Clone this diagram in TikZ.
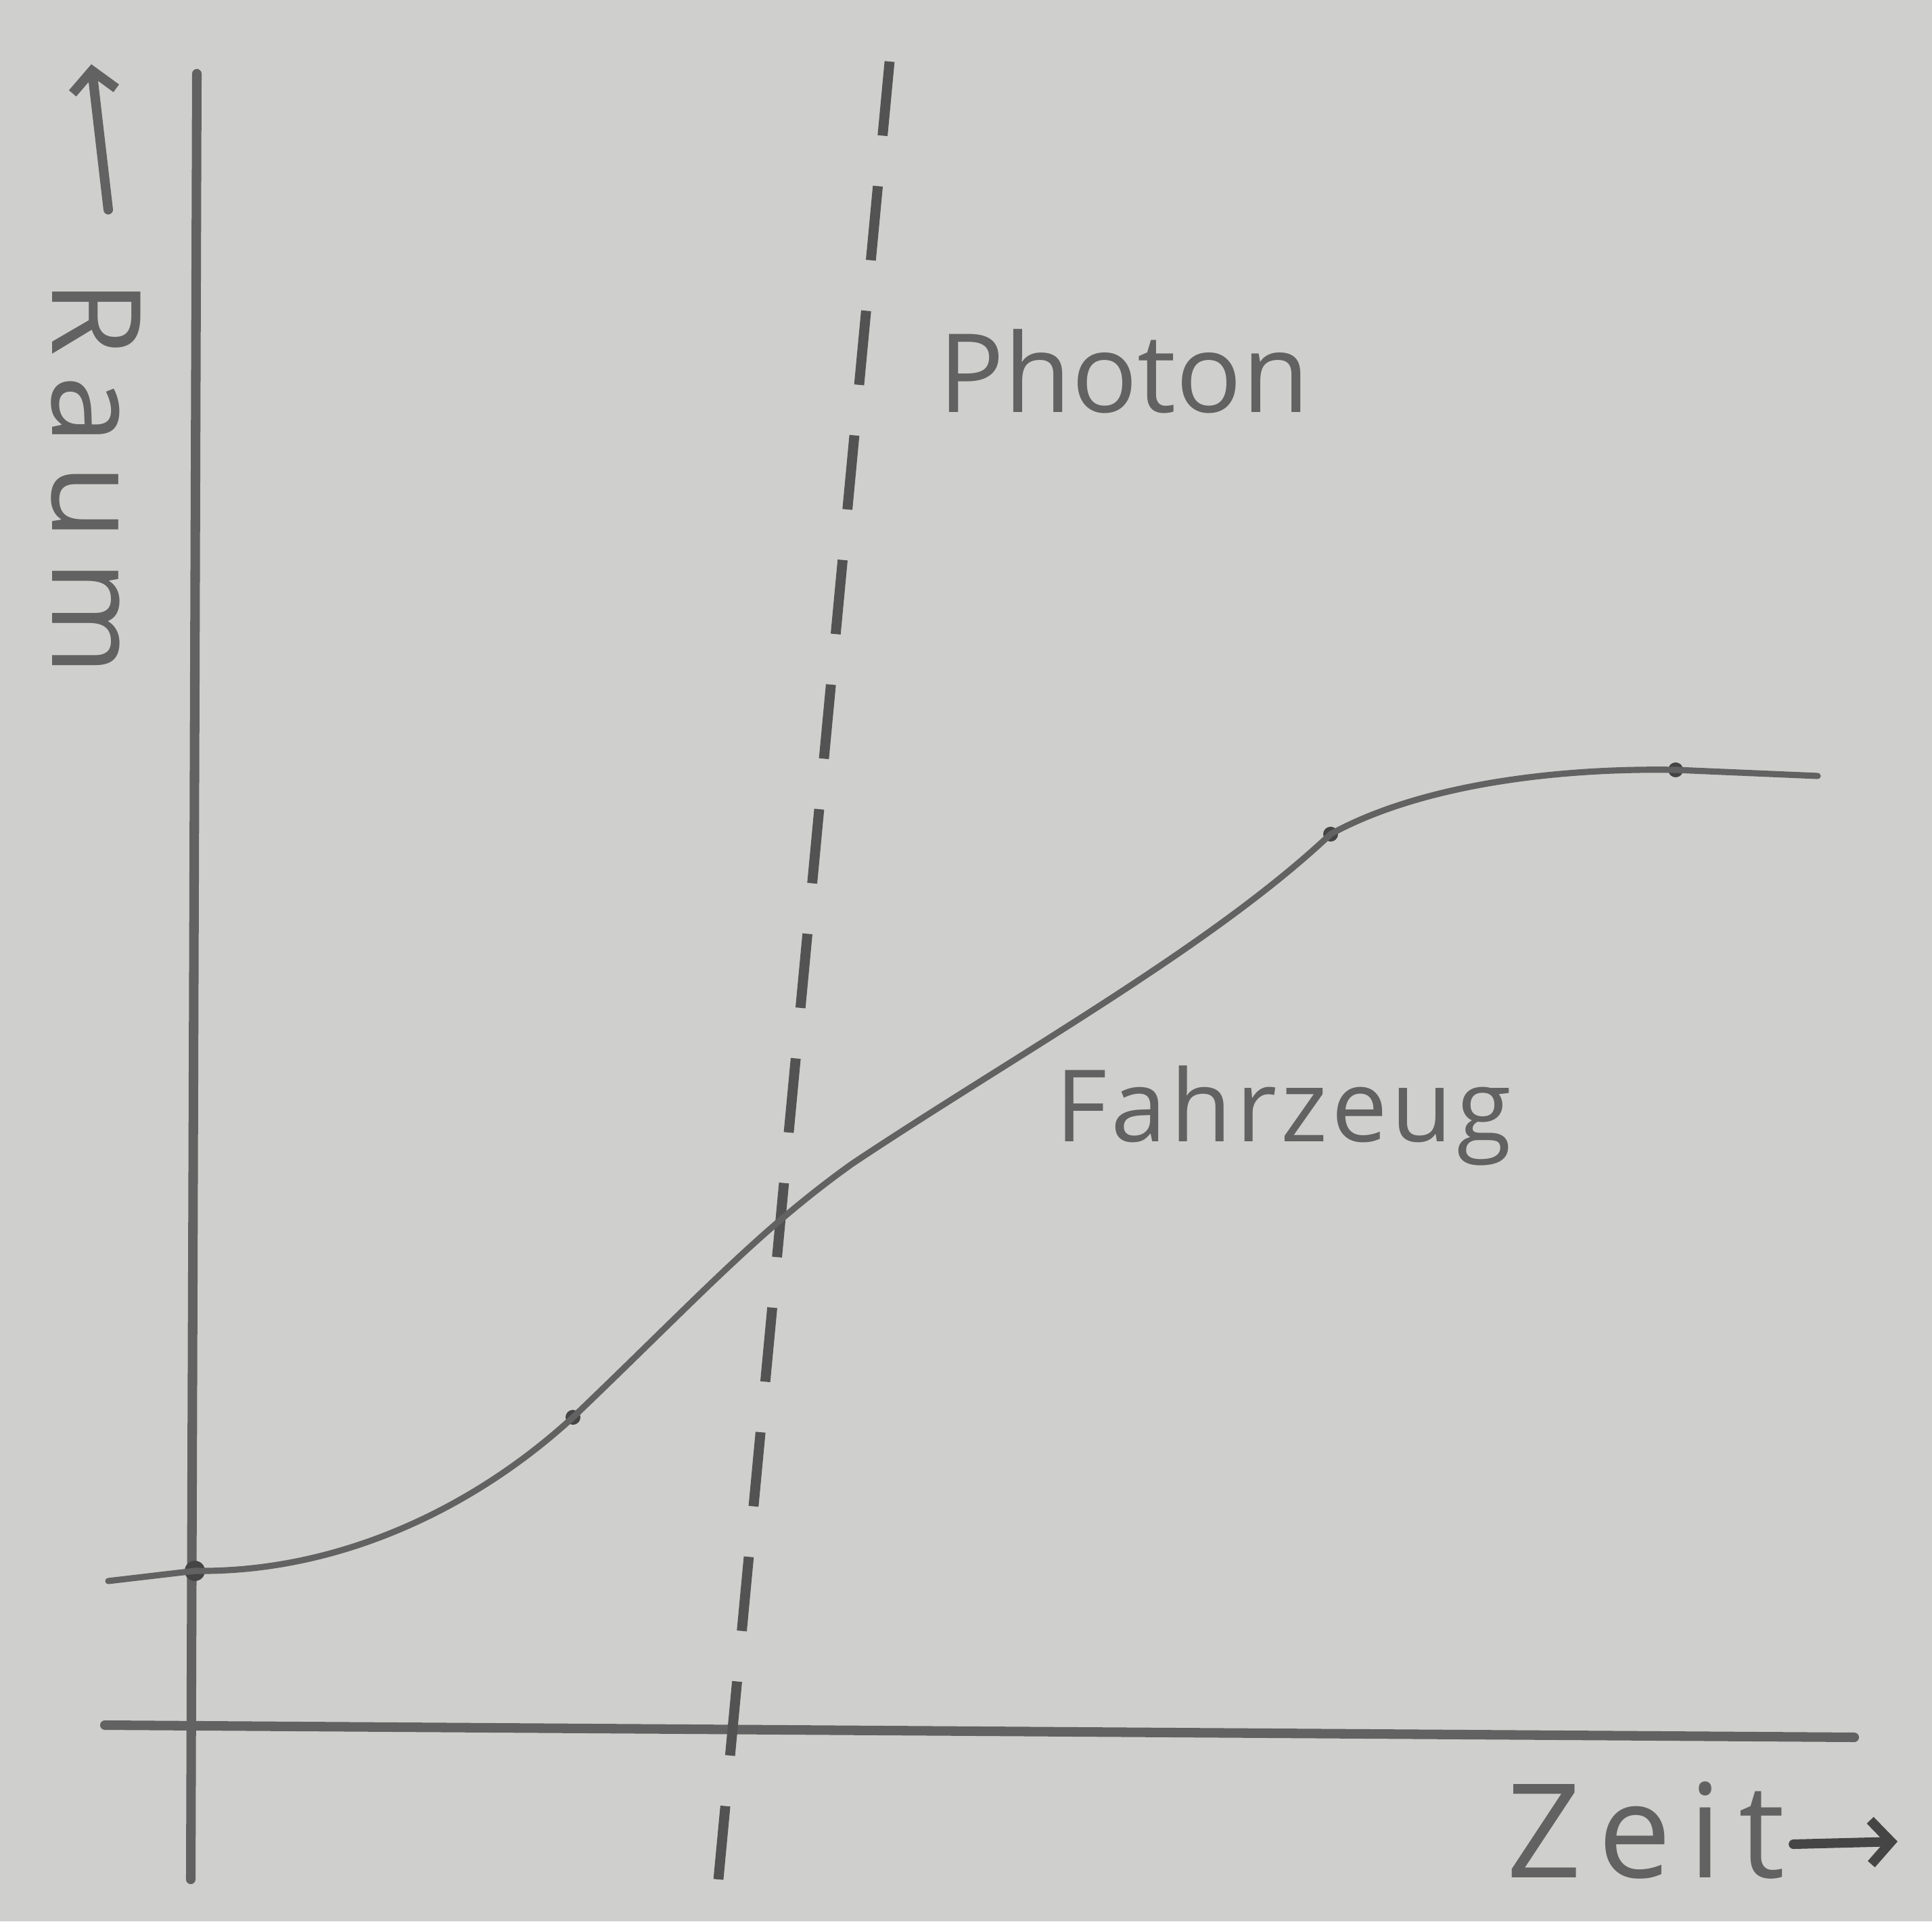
\documentclass[tikz,border=0pt]{standalone}
\usepackage{fontspec}
\setmainfont{Open Sans}
\usetikzlibrary{arrows.meta}
\definecolor{paper}{RGB}{207,207,205}
\definecolor{pencil}{RGB}{98,98,98}
\begin{document}
\begin{tikzpicture}[>={Straight Barb[length=3mm,width=6.5mm]},
  axis/.style={pencil,line width=4pt,line cap=round},
  hand/.style={pencil,font=\fontsize{50}{60}\selectfont},
  dot/.style={circle,fill=pencil!70!black,inner sep=0pt,minimum size=2.2mm}]
% paper
\path[fill=paper](0,0)rectangle(28.56,28.40);
% axes
\draw[axis](2.91,27.31)--(2.82,0.62);
\draw[axis](1.55,2.90)--(27.41,2.72);
\draw[axis,->](1.60,25.30)--(1.35,27.45);
\node[hand,rotate=-90,font=\fontsize{52}{60}\selectfont\addfontfeature{LetterSpace=16}](raum)at(1.42,21.34){Raum};
\node[hand,anchor=base west,font=\fontsize{55}{60}\selectfont\addfontfeature{LetterSpace=13}](zeit)at(22.15,0.65){Zeit};
\coordinate(zeitend)at(28.05,1.18);
\draw[axis,pencil!70!black,->](zeit.east|-0,1.14)--(zeitend);
% photon
\draw[pencil!85!black,line width=4.2pt,dash pattern=on 1.1cm off 0.75cm](13.15,27.49)--(10.62,0.62);
\node[hand,anchor=base west,font=\fontsize{46}{56}\selectfont](photon)at(13.75,22.30){Photon};
% vehicle
\node[dot,minimum size=3mm](p0)at(2.88,5.18){};
\node[dot](p1)at(8.47,7.45){};
\node[dot](p2)at(19.67,16.07){};
\node[dot](p3)at(24.77,17.02){};
\coordinate(start)at(1.60,5.03);
\coordinate(stop)at(26.87,16.93);
\draw[pencil,line width=2.6pt,line cap=round](start)--(p0.center)
  ..controls(5.0,5.15)and(7.0,6.1)..(p1.center)
  ..controls(10.3,9.2)and(11.2,10.2)..(12.6,11.2)
  ..controls(15.0,12.8)and(17.9,14.4)..(p2.center)
  ..controls(21.0,16.8)and(23.0,17.05)..(p3.center)--(stop);
\node[hand,anchor=base west,font=\fontsize{42}{50}\selectfont\addfontfeature{LetterSpace=4}](fahrzeug)at(15.48,11.52){Fahrzeug};
\end{tikzpicture}
\end{document}
